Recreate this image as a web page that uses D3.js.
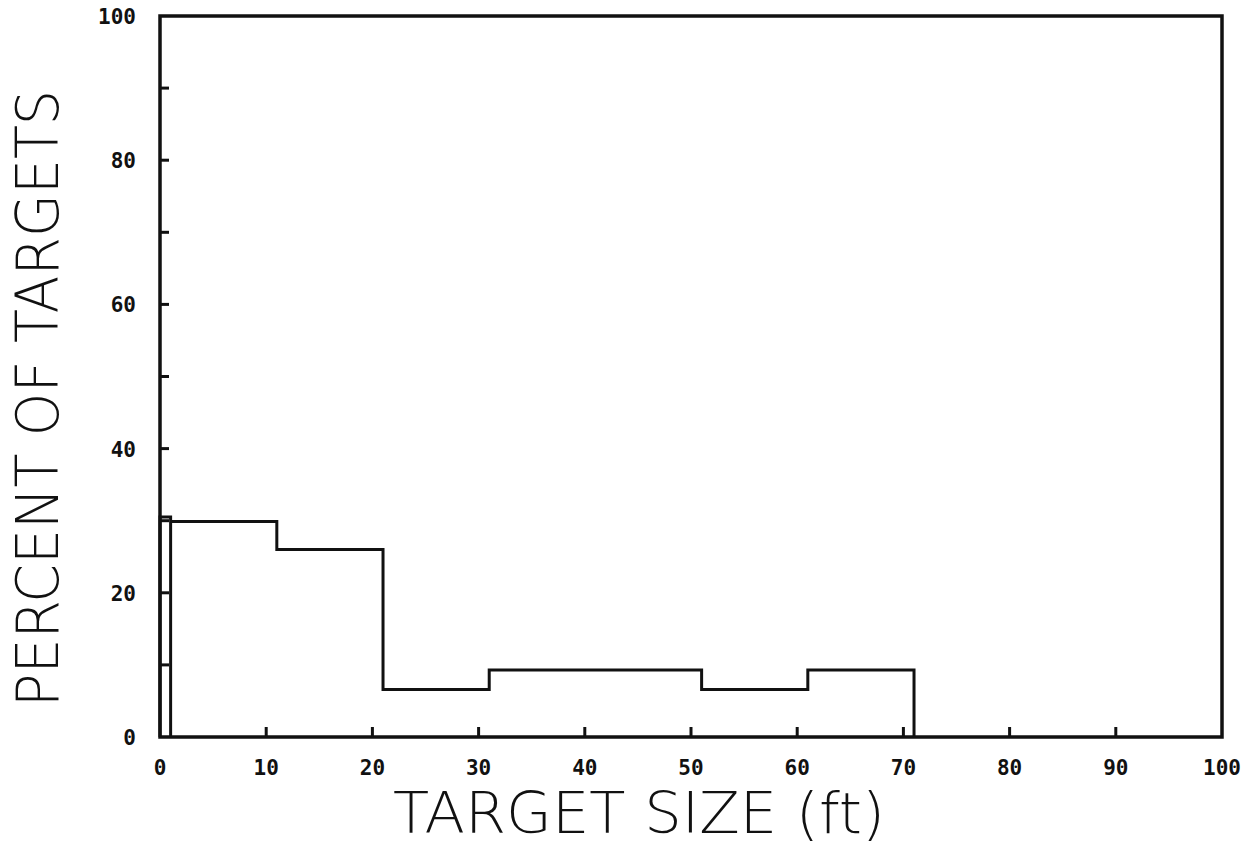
<!DOCTYPE html>
<html>
<head>
<meta charset="utf-8">
<script src="https://cdn.jsdelivr.net/npm/d3@7"></script>
<style>
  html, body { margin: 0; padding: 0; background: #fff; }
  svg { display: block; }
  .tick-label { font-family: "DejaVu Sans Mono", monospace; font-weight: bold; font-size: 21px; fill: #111; }
  .axis-title { font-family: "DejaVu Sans", sans-serif; font-weight: 200; fill: #111; }
</style>
</head>
<body>
<svg id="chart" width="1250" height="847"></svg>
<script>
// histogram bins (ft) and percent of targets
const binEdges = [0, 1, 11, 21, 31, 51, 61, 71];
const binPercent = [30.5, 29.9, 26.0, 6.6, 9.3, 6.6, 9.3];
const xTicks = [0, 10, 20, 30, 40, 50, 60, 70, 80, 90, 100];
const yLabelTicks = [0, 20, 40, 60, 80, 100];
const yMinorTicks = [10, 30, 50, 70, 90];

const margin = { top: 16, right: 28, bottom: 110, left: 160 };
const width = 1250, height = 847;

const svg = d3.select("#chart");
const x = d3.scaleLinear().domain([0, 100]).range([margin.left, width - margin.right]);
const y = d3.scaleLinear().domain([0, 100]).range([height - margin.bottom, margin.top]);

const ink = "#111";

// frame
svg.append("rect")
  .attr("x", x(0)).attr("y", y(100))
  .attr("width", x(100) - x(0)).attr("height", y(0) - y(100))
  .attr("fill", "none").attr("stroke", ink).attr("stroke-width", 3.5);

// inward ticks on x axis
svg.append("g").selectAll("line")
  .data(xTicks.slice(1, -1))
  .join("line")
  .attr("x1", (d) => x(d)).attr("x2", (d) => x(d))
  .attr("y1", y(0)).attr("y2", y(0) - 10)
  .attr("stroke", ink).attr("stroke-width", 3);

// inward ticks on y axis
svg.append("g").selectAll("line")
  .data([...yLabelTicks.slice(1, -1), ...yMinorTicks])
  .join("line")
  .attr("x1", x(0)).attr("x2", x(0) + 9)
  .attr("y1", (d) => y(d)).attr("y2", (d) => y(d))
  .attr("stroke", ink).attr("stroke-width", 3);

// tick labels
svg.append("g").selectAll("text")
  .data(xTicks)
  .join("text")
  .attr("class", "tick-label")
  .attr("x", (d) => x(d))
  .attr("y", y(0) + 38)
  .attr("text-anchor", "middle")
  .text((d) => d);

svg.append("g").selectAll("text")
  .data(yLabelTicks)
  .join("text")
  .attr("class", "tick-label")
  .attr("x", x(0) - 24)
  .attr("y", (d) => y(d) + 8)
  .attr("text-anchor", "end")
  .text((d) => d);

// histogram outline as a step path
const path = d3.path();
path.moveTo(x(binEdges[0]), y(0));
path.lineTo(x(binEdges[0]), y(binPercent[0]));
path.lineTo(x(binEdges[1]), y(binPercent[0]));
path.lineTo(x(binEdges[1]), y(0));
for (let i = 1; i < binPercent.length; i++) {
  path.lineTo(x(binEdges[i]), y(binPercent[i]));
  path.lineTo(x(binEdges[i + 1]), y(binPercent[i]));
}
path.lineTo(x(binEdges[binEdges.length - 1]), y(0));

svg.append("path")
  .attr("d", path.toString())
  .attr("fill", "none")
  .attr("stroke", ink)
  .attr("stroke-width", 3)
  .attr("stroke-linejoin", "miter");

// axis titles
svg.append("text")
  .attr("class", "axis-title")
  .attr("x", 393).attr("y", 833)
  .attr("font-size", 57)
  .attr("textLength", 492)
  .attr("lengthAdjust", "spacingAndGlyphs")
  .text("TARGET SIZE (ft)");

svg.append("text")
  .attr("class", "axis-title")
  .attr("transform", "translate(58,707) rotate(-90)")
  .attr("font-size", 58)
  .attr("textLength", 617)
  .attr("lengthAdjust", "spacingAndGlyphs")
  .text("PERCENT OF TARGETS");
</script>
</body>
</html>
